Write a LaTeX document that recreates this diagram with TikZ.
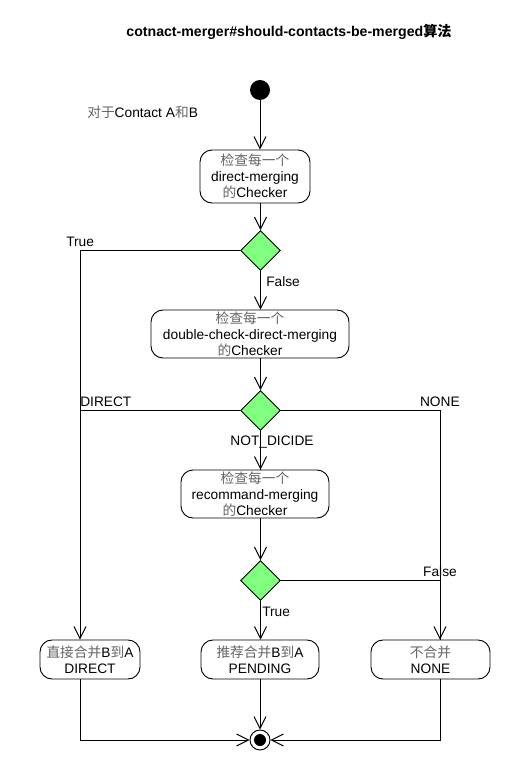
\documentclass[tikz,border=0pt]{standalone}
\usepackage{fontspec}
\setmainfont{Liberation Sans}
\newfontfamily\cjk{Noto Sans CJK SC}
\usetikzlibrary{arrows.meta,shapes.geometric}
\definecolor{decgreen}{RGB}{128,255,128}
\definecolor{cjkgray}{RGB}{100,100,100}
\newcommand{\hz}[1]{{\cjk\color{cjkgray}#1}}
\begin{document}
\begin{tikzpicture}[x=0.75pt,y=-0.75pt,
  font=\fontsize{10.3pt}{12pt}\selectfont,
  flow/.style={draw=black,line width=0.7pt},
  arr/.style={flow,-{Straight Barb[length=9pt,width=9pt,line width=0.7pt]}},
  activity/.style={draw=black,line width=0.7pt,rounded corners=9pt,align=center,
    inner sep=0pt,fill=white},
  decision/.style={diamond,draw=black,line width=0.7pt,fill=decgreen,
    minimum width=30pt,minimum height=30pt,inner sep=0pt,aspect=1},
  lbl/.style={inner sep=0pt}]
\useasboundingbox (0,0) rectangle (510,780);

% title
\node[lbl,font=\fontsize{10.6pt}{12pt}\selectfont\bfseries] (title) at (289,32)
  {cotnact-merger\#should-contacts-be-merged{\cjk 算法}};

% initial and final states
\node[circle,fill=black,minimum size=15pt,inner sep=0pt] (start) at (260,90) {};
\node[circle,draw=black,line width=0.7pt,fill=white,minimum size=15pt,inner sep=0pt] (final) at (260,740) {};
\node[circle,fill=black,minimum size=9pt,inner sep=0pt] (finaldot) at (260,740) {};

\node[lbl,anchor=west] (ctx) at (87,112) {\hz{对于}Contact A\hz{和}B};

% activities
\node[activity,minimum width=82.5pt,minimum height=39.75pt] (chk1) at (255,176.5)
  {\hz{检查每一个}\\direct-merging\\\hz{的}Checker};
\node[activity,minimum width=148.5pt,minimum height=36pt] (chk2) at (250,334)
  {\hz{检查每一个}\\double-check-direct-merging\\\hz{的}Checker};
\node[activity,minimum width=111pt,minimum height=36pt] (chk3) at (255,494)
  {\hz{检查每一个}\\recommand-merging\\\hz{的}Checker};
\node[activity,minimum width=75pt,minimum height=29.25pt] (rdirect) at (90,659.5)
  {\hz{直接合并}B\hz{到}A\\DIRECT};
\node[activity,minimum width=88.5pt,minimum height=29.25pt] (rpending) at (260,659.5)
  {\hz{推荐合并}B\hz{到}A\\PENDING};
\node[activity,minimum width=89.25pt,minimum height=29.25pt] (rnone) at (430.5,659.5)
  {\hz{不合并}\\NONE};

% decisions
\node[decision] (d1) at (260.5,250.5) {};
\node[decision] (d2) at (260.5,410.5) {};
\node[decision] (d3) at (260.5,580.5) {};

% column guides for the side branches
\coordinate (lcol) at (80,0);
\coordinate (rcol) at (440,0);

% main flow
\draw[arr] (start) -- (start |- chk1.north);
\draw[arr] (chk1.south -| d1) -- (d1.north);
\draw[arr] (d1.south) -- (d1 |- chk2.north);
\draw[arr] (chk2.south -| d2) -- (d2.north);
\draw[arr] (d2.south) -- (d2 |- chk3.north);
\draw[arr] (chk3.south -| d3) -- (d3.north);
\draw[arr] (d3.south) -- (d3 |- rpending.north);

% side branches
\draw[arr] (d1.west) -- (d1.west -| lcol) -- (lcol |- rdirect.north);
\draw[flow] (d2.west) -- (d2.west -| lcol);
\draw[arr] (d2.east) -- (d2.east -| rcol) -- (rcol |- rnone.north);
\draw[flow] (d3.east) -- (d3.east -| rcol);

% merge into final state
\draw[arr] (lcol |- rdirect.south) -- (lcol |- final) -- (final.west);
\draw[arr] (rpending.south) -- (final.north);
\draw[arr] (rcol |- rnone.south) -- (rcol |- final) -- (final.east);

% guard labels
\node[lbl,anchor=west] (gt1) at (66,242) {True};
\node[lbl,anchor=west] (gf1) at (266,282) {False};
\node[lbl,anchor=west] (gdir) at (80,402) {DIRECT};
\node[lbl,anchor=east] (gnone) at (460,402) {NONE};
\node[lbl] (gnd) at (272,442) {NOT\_DICIDE};
\node[lbl] (gf3) at (440,572) {False};
\node[lbl,anchor=west] (gt3) at (262,612) {True};
% flow lines that run across their guard labels
\draw[flow] (d2.south) -- (d2 |- chk3.north);
\draw[flow] (d3.east -| rcol) -- (rcol |- rnone.north);
\end{tikzpicture}
\end{document}
